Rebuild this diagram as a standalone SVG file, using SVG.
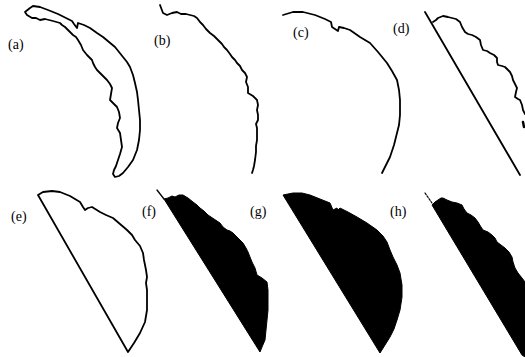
<svg xmlns="http://www.w3.org/2000/svg" width="525" height="357" viewBox="0 0 525 357">
<style>
.lbl{font-family:"Liberation Serif","Times New Roman",serif;font-size:14px;fill:#000}
.ln{fill:none;stroke:#000;stroke-width:1.8;stroke-linejoin:round;stroke-linecap:round}
.fl{fill:#000;stroke:#000;stroke-width:1;stroke-linejoin:round}
</style>
<rect width="525" height="357" fill="#fff"/>
<text class="lbl" x="8" y="49">(a)</text>
<text class="lbl" x="154" y="45">(b)</text>
<text class="lbl" x="293" y="37">(c)</text>
<text class="lbl" x="393" y="33">(d)</text>
<text class="lbl" x="11" y="221">(e)</text>
<text class="lbl" x="142" y="216">(f)</text>
<text class="lbl" x="250" y="216">(g)</text>
<text class="lbl" x="390" y="216">(h)</text>
<path class="ln" d="M27,15 L25,12 L30,8 L33,6 L40,7 L48,10 L58,14 L66,18 L72,21 L74,24 L77,28 L78,23 L84,25 L90,28 L97,33 L103,37 L109,42 L115,47 L119,52 L123,57 L127,62 L130,67 L133,75 L135,83 L137,92 L138,100 L139,110 L140,120 L140,130 L139,140 L137,150 L133,160 L128,167 L123,173 L119,176 L115,177 L113,174 L114,170 L116,166 L118,160 L120,154 L122,147 L121,140 L120,133 L117,128 L118,123 L120,118 L119,112 L117,107 L113,103 L110,100 L111,94 L112,88 L110,84 L107,80 L104,77 L100,73 L97,70 L95,67 L93,63 L92,60 L87,55 L83,50 L81,45 L78,40 L76,37 L73,35 L69,31 L65,27 L62,25 L60,23 L53,21 L45,19 L40,20 L36,18 L32,18 Z"/>
<path class="ln" d="M160,5 L163,13 L167,15 L172,13 L177,12 L181,14 L186,14 L190,15 L194,16 L197,18 L200,22 L203,25 L206,29 L210,33 L214,36 L218,40 L222,44 L224,47 L227,50 L230,54 L232,57 L235,60 L237,63 L240,66 L242,70 L245,73 L247,77 L246,82 L248,87 L248,93 L253,96 L257,100 L258,105 L257,110 L258,115 L258,120 L256,124 L257,128 L257,134 L257,140 L256,146 L256,152 L255,160 L254,166 L253,170 L252,173"/>
<path class="ln" d="M283,15 L293,12 L303,12 L315,15 L325,19 L331,22 L332,27 L338,31 L339,27 L344,28 L350,30 L360,37 L370,43 L378,52 L387,63 L392,71 L397,80 L399,90 L400,100 L400,115 L399,125 L397,133 L394,145 L390,157 L386,165 L382,173"/>
<path class="ln" d="M425,12 L520,175"/>
<path class="ln" d="M433,22 L436,20 L438,18 L443,16 L448,17 L452,18 L456,19 L460,22 L462,27 L465,32 L468,34 L472,35 L476,37 L480,40 L481,45 L483,50 L487,51 L490,53 L494,55 L497,58 L497,62 L498,65 L502,66 L505,67 L508,70 L510,72 L512,76 L513,80 L515,84 L517,88 L516,92 L515,97 L518,99 L520,100 L522,105 L523,110 L525,114"/>
<path class="ln" d="M523,122 L524,127" style="stroke-width:2.5"/>
<path class="ln" d="M38,195 L43,192 L52,191 L60,192 L70,196 L80,202 L83,207 L85,210 L88,208 L92,207 L100,212 L106,215 L113,218 L120,224 L127,230 L132,235 L135,240 L140,246 L143,253 L144,260 L145,265 L146,270 L147,277 L146,283 L147,290 L147,300 L147,310 L145,322 L140,333 L134,343 L128,352 Z"/>
<path class="fl" d="M164,199 L168,198 L172,196 L175,197 L179,195 L183,195 L188,198 L193,202 L197,205 L200,208 L204,211 L208,215 L214,219 L220,223 L223,227 L227,230 L230,231 L233,233 L238,238 L243,243 L246,248 L248,252 L250,257 L252,262 L255,268 L257,275 L262,278 L267,282 L268,290 L268,300 L268,310 L267,320 L266,330 L265,340 L262,347 L260,352 Z"/>
<path class="ln" d="M157,190 L164,199" style="stroke-width:1.3"/>
<path class="fl" d="M283,195 L293,193 L302,193 L310,195 L320,199 L330,203 L333,210 L337,208 L338,210 L340,208 L348,212 L357,217 L367,223 L377,230 L383,236 L387,242 L390,250 L393,257 L397,265 L400,273 L402,285 L402,297 L400,310 L397,320 L394,329 L390,337 L385,345 L380,353 Z"/>
<path class="fl" d="M432,205 L435,202 L438,200 L441,198 L443,198 L447,200 L452,202 L457,203 L462,205 L464,209 L467,213 L471,215 L475,218 L478,222 L481,227 L483,230 L488,232 L492,235 L495,238 L497,242 L501,245 L505,248 L509,252 L512,257 L513,262 L515,268 L518,273 L522,278 L525,282 L525,357 L522,355 Z"/>
<path class="ln" d="M425,193 L432,203" style="stroke-width:1.2;stroke-dasharray:2 1.5"/>
</svg>
